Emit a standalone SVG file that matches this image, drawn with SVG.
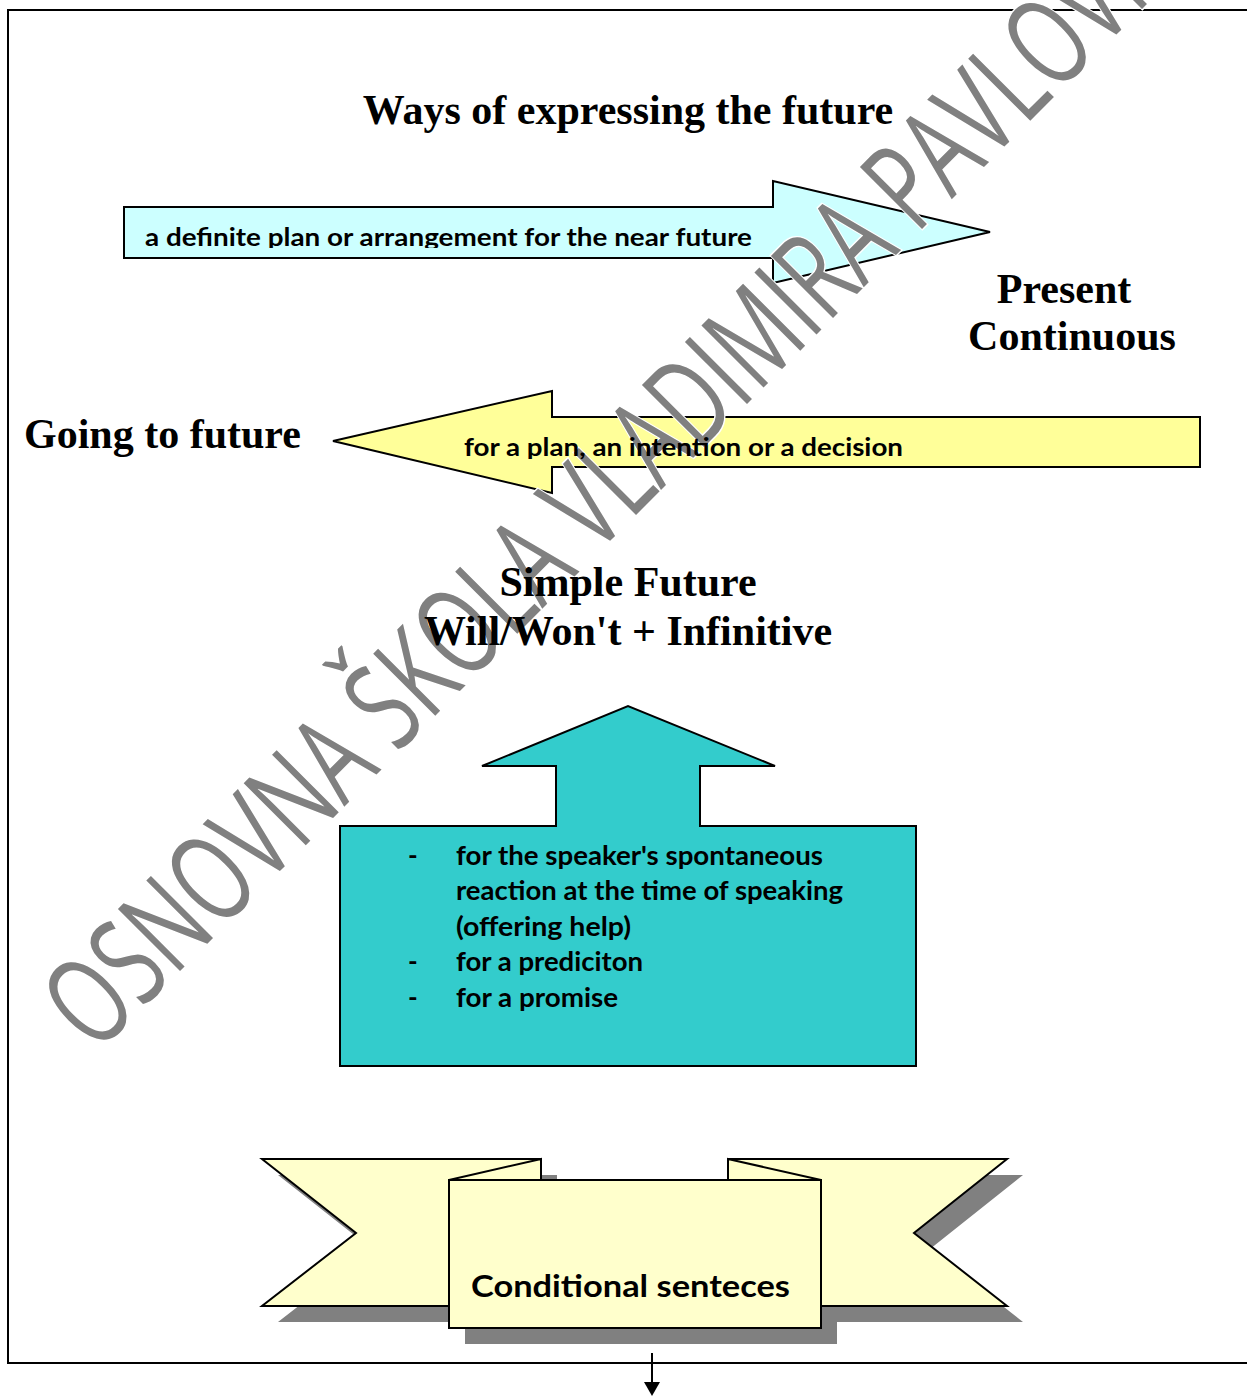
<svg xmlns="http://www.w3.org/2000/svg" width="1247" height="1396" viewBox="0 0 1247 1396">
<style>
.serif{font-family:"Liberation Serif","Times New Roman",serif;font-weight:bold;font-size:42px;fill:#000}
.sans{font-family:Lato,"Open Sans","Liberation Sans",sans-serif;font-weight:bold;fill:#000}
.shape{stroke:#000;stroke-width:2;stroke-linejoin:miter}
.shadow{fill:#808080;stroke:none}
.wm{font-family:"Open Sans","Liberation Sans",sans-serif;font-weight:normal;font-size:123px;fill:#808080;stroke:#fff;stroke-width:3;paint-order:stroke}
</style>
<defs>
<clipPath id="clipCyan"><rect x="124" y="207" width="649" height="41"/></clipPath>
<clipPath id="clipYellow"><rect x="340" y="417" width="860" height="42"/></clipPath>
</defs>
<rect x="0" y="0" width="1247" height="1396" fill="#fff"/>
<path d="M1247,10 H8 V1363 H1247" fill="none" stroke="#000" stroke-width="2"/>

<g id="near-future-arrow">
<polygon class="shape" fill="#CCFFFF" points="124,207 773,207 773,181 990,232 773,283 773,258 124,258"/>
</g>
<g id="plan-arrow">
<polygon class="shape" fill="#FFFF99" points="1200,417 552,417 552,391 333,441 552,493 552,467 1200,467"/>
</g>
<g id="simple-future-callout">
<polygon class="shape" fill="#33CCCC" points="340,826 556,826 556,766 482,766 628,706 775,766 700,766 700,826 916,826 916,1066 340,1066"/>
</g>
<g id="conditional-ribbon">
<g class="shadow" transform="translate(16,16)">
<polygon points="262,1159 541,1159 541,1306 262,1306 356,1233"/>
<polygon points="1007,1159 728,1159 728,1306 1007,1306 914,1233"/>
<rect x="449" y="1180" width="372" height="148"/>
</g>
<polygon class="shape" fill="#FFFFCC" points="262,1159 541,1159 541,1306 262,1306 356,1233"/>
<polygon class="shape" fill="#FFFFCC" points="1007,1159 728,1159 728,1306 1007,1306 914,1233"/>
<polygon class="shape" fill="#FFFFCC" points="449,1180 541,1159 541,1180"/>
<polygon class="shape" fill="#FFFFCC" points="821,1180 728,1159 728,1180"/>
<rect class="shape" fill="#FFFFCC" x="449" y="1180" width="372" height="148"/>
</g>

<g id="connectors">
<line x1="652" y1="1353" x2="652" y2="1384" stroke="#000" stroke-width="2"/>
<polygon points="644,1382 660,1382 652,1396" fill="#000"/>
</g>

<g id="watermark">
<text class="wm" transform="translate(96,1055) rotate(-45)" x="0" y="0" textLength="1600" lengthAdjust="spacingAndGlyphs">OSNOVNA ŠKOLA VLADIMIRA PAVLOVIĆA</text>
</g>

<g id="labels">
<text id="title" class="serif" x="628" y="124" text-anchor="middle">Ways of expressing the future</text>
<g id="present-continuous">
<text class="serif" x="1064" y="303" text-anchor="middle">Present</text>
<text class="serif" x="1072" y="350" text-anchor="middle">Continuous</text>
</g>
<text id="going-to" class="serif" x="24" y="448">Going to future</text>
<g id="simple-future">
<text class="serif" x="628" y="596" text-anchor="middle">Simple Future</text>
<text class="serif" x="628" y="645" text-anchor="middle">Will/Won't + Infinitive</text>
</g>
<text class="sans" font-size="25" x="145" y="246" textLength="607" lengthAdjust="spacingAndGlyphs" clip-path="url(#clipCyan)">a definite plan or arrangement for the near future</text>
<text class="sans" font-size="25" x="464" y="456" textLength="439" lengthAdjust="spacingAndGlyphs" clip-path="url(#clipYellow)">for a plan, an intention or a decision</text>
<g class="sans" font-size="26">
<text x="408" y="865">-</text>
<text x="456" y="865" textLength="367" lengthAdjust="spacingAndGlyphs">for the speaker's spontaneous</text>
<text x="456" y="900" textLength="387" lengthAdjust="spacingAndGlyphs">reaction at the time of speaking</text>
<text x="456" y="936" textLength="175" lengthAdjust="spacingAndGlyphs">(offering help)</text>
<text x="408" y="971">-</text>
<text x="456" y="971" textLength="187" lengthAdjust="spacingAndGlyphs">for a prediciton</text>
<text x="408" y="1007">-</text>
<text x="456" y="1007" textLength="162" lengthAdjust="spacingAndGlyphs">for a promise</text>
</g>
<text class="sans" font-size="31" x="471" y="1297" textLength="319" lengthAdjust="spacingAndGlyphs">Conditional senteces</text>
</g>
</svg>
